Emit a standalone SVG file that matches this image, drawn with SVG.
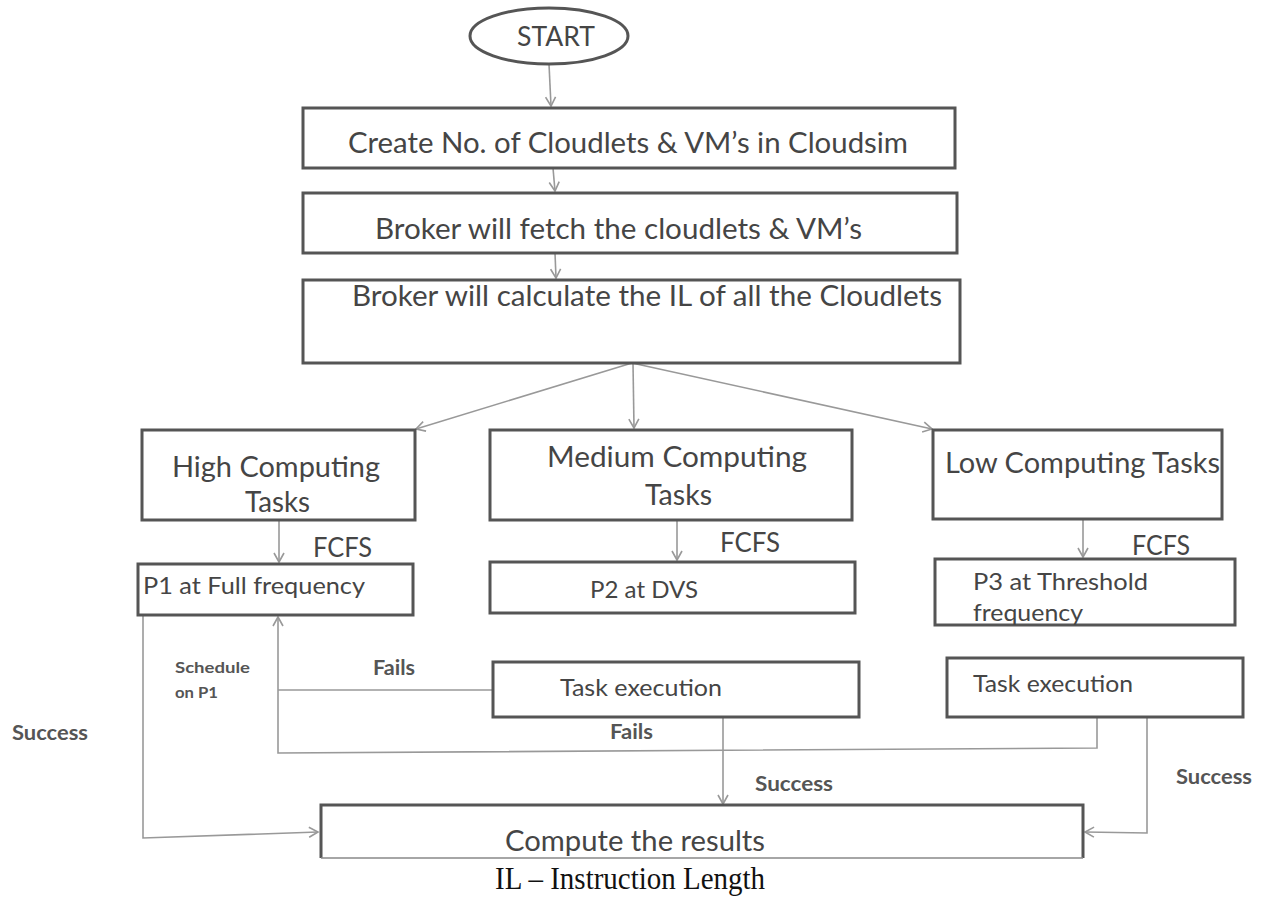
<svg xmlns="http://www.w3.org/2000/svg" width="1261" height="898" viewBox="0 0 1261 898">
<style>
.box{fill:#fff;stroke:#555;stroke-width:3}
.t{font-family:Lato,"Open Sans","Liberation Sans",sans-serif;fill:#454545}
.b{font-family:Lato,"Open Sans","Liberation Sans",sans-serif;fill:#555;font-weight:bold}
.c{fill:none;stroke:#999;stroke-width:1.6}
</style>
<defs>
<marker id="ah" markerWidth="12" markerHeight="12" refX="10" refY="6" orient="auto" markerUnits="userSpaceOnUse">
<path d="M1,1 L10,6 L1,11" fill="none" stroke="#999" stroke-width="1.6"/>
</marker>
</defs>
<rect width="1261" height="898" fill="#fff"/>
<g id="connectors">
<path class="c" d="M549,64 L551,106" marker-end="url(#ah)"/>
<path class="c" d="M553,168 L555,191" marker-end="url(#ah)"/>
<path class="c" d="M555,253 L556,278" marker-end="url(#ah)"/>
<path class="c" d="M632,363 L416,429" marker-end="url(#ah)"/>
<path class="c" d="M633,363 L634,428" marker-end="url(#ah)"/>
<path class="c" d="M632,363 L932,429" marker-end="url(#ah)"/>
<path class="c" d="M279,520 L279,562" marker-end="url(#ah)"/>
<path class="c" d="M677,520 L677,560" marker-end="url(#ah)"/>
<path class="c" d="M1083,519 L1083,557" marker-end="url(#ah)"/>
<path class="c" d="M143,615 L143,838 L318,832" marker-end="url(#ah)"/>
<path class="c" d="M492,690 L278,690"/>
<path class="c" d="M1097,717 L1097,748 L278,753 L278,617" marker-end="url(#ah)"/>
<path class="c" d="M723,717 L723,804" marker-end="url(#ah)"/>
<path class="c" d="M1147,717 L1147,833 L1085,832" marker-end="url(#ah)"/>
</g>
<g id="start">
<ellipse cx="549" cy="36" rx="79" ry="28" fill="#fff" stroke="#555" stroke-width="3"/>
<text class="t" x="556" y="46" font-size="27" text-anchor="middle" textLength="78" lengthAdjust="spacingAndGlyphs">START</text>
</g>
<g id="create">
<rect class="box" x="303" y="108" width="652" height="60"/>
<text class="t" x="348" y="153" font-size="29" textLength="560" lengthAdjust="spacingAndGlyphs">Create No. of Cloudlets &amp; VM’s in Cloudsim</text>
</g>
<g id="fetch">
<rect class="box" x="303" y="193" width="654" height="60"/>
<text class="t" x="375" y="239" font-size="29" textLength="487" lengthAdjust="spacingAndGlyphs">Broker will fetch the cloudlets &amp; VM’s</text>
</g>
<g id="calculate">
<rect class="box" x="303" y="280" width="657" height="83"/>
<text class="t" x="352" y="306" font-size="29" textLength="590" lengthAdjust="spacingAndGlyphs">Broker will calculate the IL of all the Cloudlets</text>
</g>
<g id="high">
<rect class="box" x="142" y="430" width="273" height="90"/>
<text class="t" x="172" y="477" font-size="29" textLength="208" lengthAdjust="spacingAndGlyphs">High Computing</text>
<text class="t" x="245" y="512" font-size="29" textLength="65" lengthAdjust="spacingAndGlyphs">Tasks</text>
</g>
<g id="medium">
<rect class="box" x="490" y="430" width="362" height="90"/>
<text class="t" x="547" y="467" font-size="29" textLength="260" lengthAdjust="spacingAndGlyphs">Medium Computing</text>
<text class="t" x="645" y="505" font-size="29" textLength="67" lengthAdjust="spacingAndGlyphs">Tasks</text>
</g>
<g id="low">
<rect class="box" x="933" y="430" width="289" height="89"/>
<text class="t" x="945" y="473" font-size="29" textLength="275" lengthAdjust="spacingAndGlyphs">Low Computing Tasks</text>
</g>
<g id="fcfs">
<text class="t" x="313" y="557" font-size="26" textLength="59" lengthAdjust="spacingAndGlyphs">FCFS</text>
<text class="t" x="720" y="552" font-size="26" textLength="60" lengthAdjust="spacingAndGlyphs">FCFS</text>
<text class="t" x="1132" y="555" font-size="26" textLength="58" lengthAdjust="spacingAndGlyphs">FCFS</text>
</g>
<g id="p1">
<rect class="box" x="138" y="564" width="275" height="51"/>
<text class="t" x="143" y="594" font-size="24" textLength="222" lengthAdjust="spacingAndGlyphs">P1 at Full frequency</text>
</g>
<g id="p2">
<rect class="box" x="490" y="562" width="365" height="51"/>
<text class="t" x="590" y="598" font-size="24" textLength="108" lengthAdjust="spacingAndGlyphs">P2 at DVS</text>
</g>
<g id="p3">
<rect class="box" x="935" y="559" width="300" height="66"/>
<text class="t" x="973" y="590" font-size="24" textLength="175" lengthAdjust="spacingAndGlyphs">P3 at Threshold</text>
<text class="t" x="973" y="621" font-size="24" textLength="110" lengthAdjust="spacingAndGlyphs">frequency</text>
</g>
<g id="task-mid">
<rect class="box" x="493" y="662" width="366" height="55"/>
<text class="t" x="560" y="696" font-size="24" textLength="162" lengthAdjust="spacingAndGlyphs">Task execution</text>
</g>
<g id="task-right">
<rect class="box" x="947" y="658" width="296" height="59"/>
<text class="t" x="973" y="692" font-size="24" textLength="160" lengthAdjust="spacingAndGlyphs">Task execution</text>
</g>
<g id="compute">
<path d="M321,858 L321,805 L1083,805 L1083,858" fill="#fff" stroke="#555" stroke-width="3"/>
<path d="M321,858 L1083,858" stroke="#888" stroke-width="1.5"/>
<text class="t" x="505" y="851" font-size="29" textLength="260" lengthAdjust="spacingAndGlyphs">Compute the results</text>
</g>
<g id="labels">
<text class="b" x="175" y="673" font-size="16" textLength="75" lengthAdjust="spacingAndGlyphs">Schedule</text>
<text class="b" x="175" y="698" font-size="16" textLength="43" lengthAdjust="spacingAndGlyphs">on P1</text>
<text class="b" x="373" y="675" font-size="20" textLength="42" lengthAdjust="spacingAndGlyphs">Fails</text>
<text class="b" x="610" y="739" font-size="20" textLength="43" lengthAdjust="spacingAndGlyphs">Fails</text>
<text class="b" x="12" y="740" font-size="21" textLength="76" lengthAdjust="spacingAndGlyphs">Success</text>
<text class="b" x="755" y="791" font-size="21" textLength="78" lengthAdjust="spacingAndGlyphs">Success</text>
<text class="b" x="1176" y="784" font-size="21" textLength="76" lengthAdjust="spacingAndGlyphs">Success</text>
</g>
<text x="495" y="889" font-family="'Liberation Serif',serif" font-size="32" fill="#111" textLength="270" lengthAdjust="spacingAndGlyphs">IL – Instruction Length</text>
</svg>
